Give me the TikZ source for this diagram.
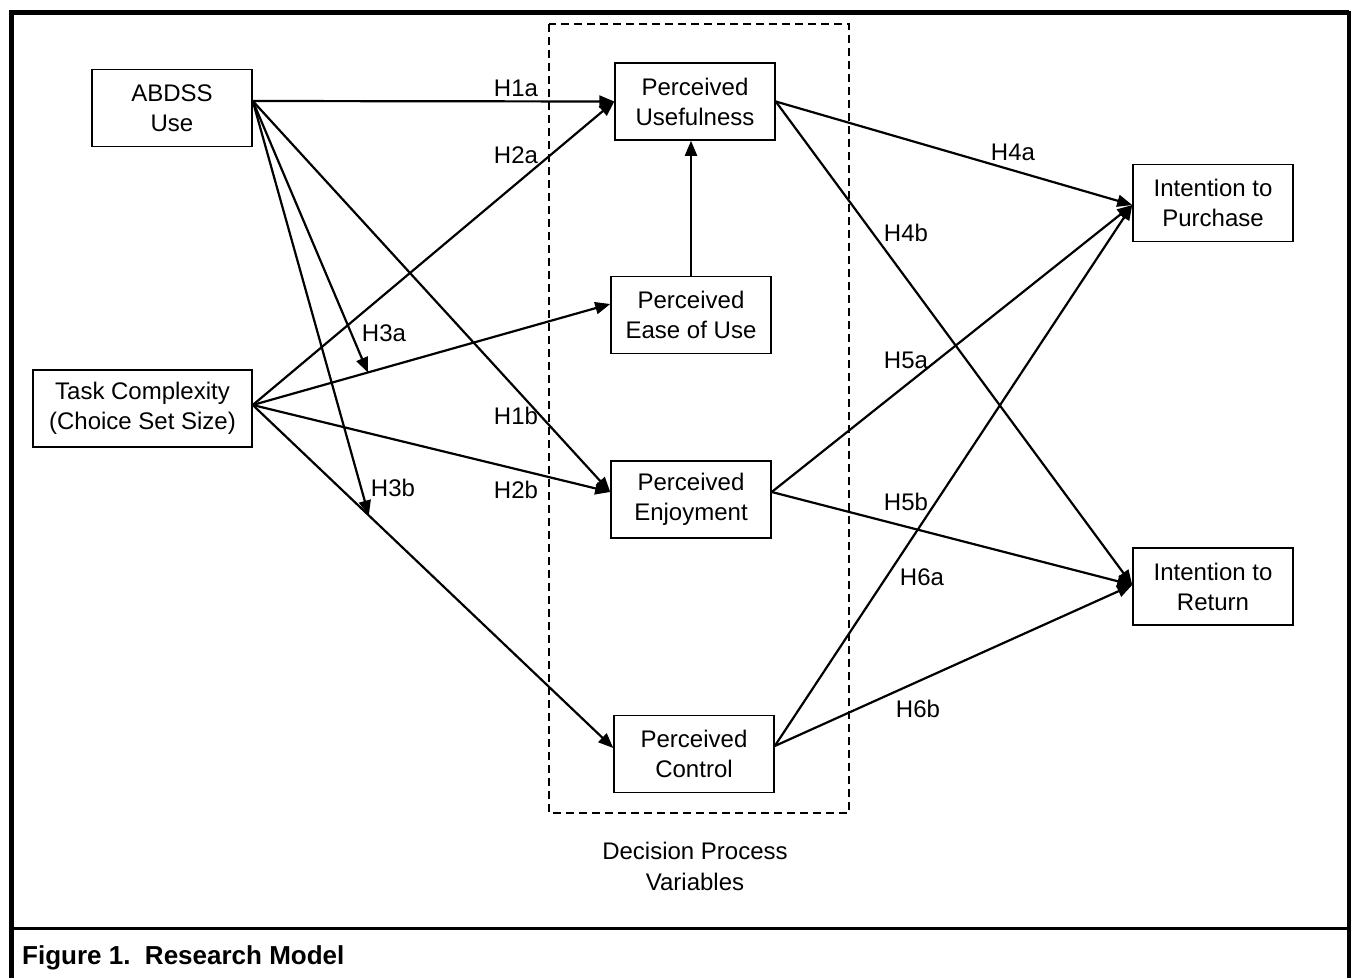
\documentclass[tikz,border=0pt]{standalone}
\usepackage{fontspec}
\setmainfont{Liberation Sans}
\usetikzlibrary{arrows.meta,calc}
\begin{document}
\begin{tikzpicture}[x=1pt,y=-1pt,
  vbox/.style={draw,line width=1.5pt,minimum width=160pt,minimum height=77pt,inner sep=0pt,align=center,font=\fontsize{24}{30}\selectfont},
  conn/.style={line width=2.2pt,-{Triangle[length=15pt,width=12pt]}},
  lab/.style={font=\fontsize{24}{28}\selectfont,inner sep=0pt}]
\useasboundingbox (0,0) rectangle (1357,977);
% frame
\draw[line width=5pt] (11,990) -- (11,12.5) -- (1349,12.5);
\draw[line width=3.2pt] (1349,11) -- (1349,990);
\draw[line width=3pt] (11,928) -- (1349,928);
\node[anchor=west,inner sep=0pt,font=\fontsize{26}{30}\selectfont\bfseries] (cap) at (22,958) {Figure 1.\ \ Research Model};
% dashed group
\draw[line width=1.7pt,dash pattern=on 8pt off 5pt] (549,24) rectangle (849,813);
\node[align=center,font=\fontsize{24}{31}\selectfont,inner sep=0pt] (dpv) at (695,866) {Decision Process\\Variables};
% nodes
\node[vbox] (abdss) at (172,108) {ABDSS\\Use};
\node[vbox,minimum width=219pt] (tc) at (142.5,408.5) {Task Complexity\\(Choice Set Size)};
\node[vbox] (pu) at (695,101.5) {Perceived\\Usefulness};
\node[vbox] (peou) at (691,315) {Perceived\\Ease of Use};
\node[vbox] (pe) at (691,499.5) {Perceived\\Enjoyment};
\node[vbox] (pc) at (694,754) {Perceived\\Control};
\node[vbox] (ip) at (1213,203) {Intention to\\Purchase};
\node[vbox] (ir) at (1213,586.5) {Intention to\\Return};
% anchor points
\coordinate (aS) at ([yshift=7pt]abdss.east);
\coordinate (tS) at ([yshift=3.5pt]tc.east);
\coordinate (peT) at ([yshift=7.5pt]pe.west);
\coordinate (peouT) at ([yshift=11pt]peou.west);
\coordinate (pcT) at ([yshift=6pt]pc.west);
\coordinate (peS) at ([yshift=7.5pt]pe.east);
\coordinate (pcS) at ([yshift=8pt]pc.east);
\coordinate (ipT) at ([yshift=-2pt]ip.west);
\coordinate (irT) at ([yshift=1.5pt]ir.west);
\coordinate (m3a) at ($(tS)!0.322!(peouT)$);
\coordinate (m3b) at ($(tS)!0.322!(pcT)$);
% connectors
\draw[conn] (aS) -- (pu.west);
\draw[conn] (aS) -- (peT);
\draw[conn] (aS) -- (m3a);
\draw[conn] (aS) -- (m3b);
\draw[conn] (tS) -- (pu.west);
\draw[conn] (tS) -- (peouT);
\draw[conn] (tS) -- (peT);
\draw[conn] (tS) -- (pcT);
\draw[conn] (peou.north) -- (peou.north |- pu.south);
\draw[conn] (pu.east) -- (ipT);
\draw[conn] (pu.east) -- (irT);
\draw[conn] (peS) -- (ipT);
\draw[conn] (peS) -- (irT);
\draw[conn] (pcS) -- (ipT);
\draw[conn] (pcS) -- (irT);
% labels
\node[lab] (l1a) at (516,88) {H1a};
\node[lab] (l2a) at (516,155) {H2a};
\node[lab] (l3a) at (384,333) {H3a};
\node[lab] (l1b) at (516,416) {H1b};
\node[lab] (l3b) at (393,488) {H3b};
\node[lab] (l2b) at (516,490) {H2b};
\node[lab] (l4a) at (1013,152) {H4a};
\node[lab] (l4b) at (906,233) {H4b};
\node[lab] (l5a) at (906,360) {H5a};
\node[lab] (l5b) at (906,502) {H5b};
\node[lab] (l6a) at (922,577) {H6a};
\node[lab] (l6b) at (918,709) {H6b};
\end{tikzpicture}
\end{document}
